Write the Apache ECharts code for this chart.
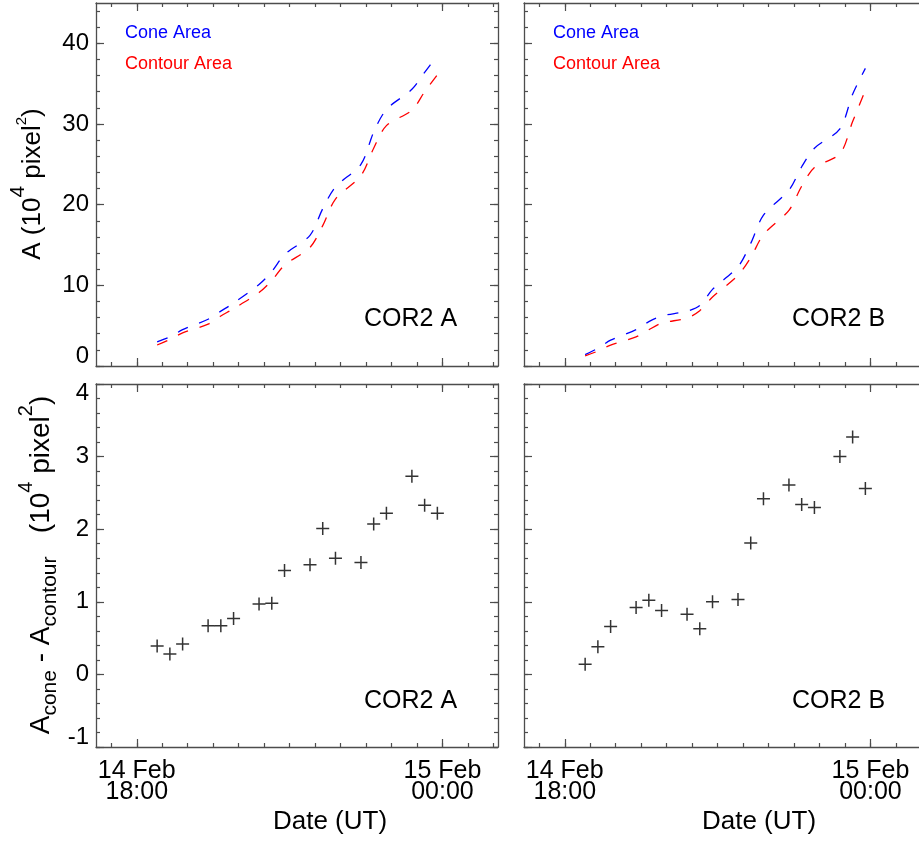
<!DOCTYPE html>
<html>
<head>
<meta charset="utf-8">
<script src="https://cdn.jsdelivr.net/npm/echarts@6/dist/echarts.min.js"></script>
<style>
  html, body { margin: 0; padding: 0; background: #fff; }
  #chart { width: 919px; height: 846px; }
</style>
</head>
<body>
<div id="chart"></div>
<script>
///////////////////////////////////////////////////
// Data
///////////////////////////////////////////////////

// COR2 image times, 14 Feb (UT)
var times = ['18:24', '18:39', '18:54', '19:24', '19:39', '19:54', '20:24', '20:39', '20:54',
             '21:24', '21:39', '21:54', '22:24', '22:39', '22:54', '23:24', '23:39', '23:54'];

// COR2 A, areas in 10^4 pixel^2
var coneAreaA    = [3.0, 3.6, 4.5, 5.8, 6.8, 7.8, 10.1, 11.7, 13.8, 16.2, 19.5, 22.2, 25.0, 29.0, 31.8, 34.3, 36.4, 38.5];
var contourAreaA = [2.6, 3.3, 4.1, 5.2, 6.2, 7.1, 9.1, 10.6, 12.5, 14.7, 17.4, 20.7, 23.6, 27.0, 29.8, 31.7, 34.0, 36.1];
var diffA        = [0.39, 0.28, 0.42, 0.67, 0.67, 0.77, 0.97, 0.98, 1.43, 1.51, 2.01, 1.60, 1.54, 2.07, 2.22, 2.73, 2.33, 2.22];

// COR2 B
var coneAreaB    = [1.4, 2.2, 3.2, 4.5, 5.5, 6.2, 6.8, 7.5, 9.5, 12.3, 15.2, 18.7, 21.8, 24.7, 27.0, 29.4, 33.7, 36.9];
var contourAreaB = [1.26, 1.85, 2.6, 3.6, 4.5, 5.3, 5.95, 6.85, 8.55, 11.25, 13.45, 16.3, 19.3, 22.3, 24.6, 26.3, 30.3, 34.2];
var diffB        = [0.14, 0.38, 0.66, 0.92, 1.02, 0.88, 0.83, 0.63, 1.00, 1.03, 1.81, 2.42, 2.61, 2.34, 2.30, 3.00, 3.27, 2.56];

// axis ticks (x in hours since 14 Feb 00:00)
var xTicks = [18, 24];
var xTickLabels = ['14 Feb\n18:00', '15 Feb\n00:00'];
var areaTicks = [0, 10, 20, 30, 40];
var diffTicks = [-1, 0, 1, 2, 3, 4];

function steps(a, b, d) {
  var out = [];
  for (var v = a; v <= b + 1e-9; v += d) out.push(Math.round(v * 1000) / 1000);
  return out;
}
var xMinorTicks = steps(17.5, 25, 0.5);
var areaMinorTicks = steps(0, 44, 2);
var diffMinorTicks = steps(-1, 4, 0.2);

var X_MIN = 17.2, X_MAX = 25.09;

function toHours(t) {
  var p = t.split(':');
  return +p[0] + p[1] / 60;
}
function pairs(vals) {
  return times.map(function (t, i) { return [toHours(t), vals[i]]; });
}

///////////////////////////////////////////////////
// Axes
///////////////////////////////////////////////////
var AXIS = '#4d4d4d';
var FONT = 'Liberation Sans, Arial, Helvetica, sans-serif';

function xAxesFor(gi, withLabels) {
  var out = [];
  ['bottom', 'top'].forEach(function (pos) {
    out.push({
      type: 'value', gridIndex: gi, position: pos, min: X_MIN, max: X_MAX,
      splitLine: { show: false },
      axisLine: { show: true, onZero: false, lineStyle: { color: AXIS, width: 1.3 } },
      axisTick: { show: true, inside: true, length: 8, customValues: xTicks, lineStyle: { color: AXIS, width: 1.2 } },
      axisLabel: (pos === 'bottom' && withLabels) ? {
        show: true, customValues: xTicks, margin: 14,
        color: '#000', fontSize: 25, lineHeight: 21, fontFamily: FONT,
        formatter: function (v) { return xTickLabels[xTicks.indexOf(v)]; }
      } : { show: false }
    });
    out.push({
      type: 'value', gridIndex: gi, position: pos, min: X_MIN, max: X_MAX,
      splitLine: { show: false },
      axisLine: { show: false, onZero: false },
      axisTick: { show: true, inside: true, length: 4, customValues: xMinorTicks, lineStyle: { color: AXIS, width: 1.2 } },
      axisLabel: { show: false }
    });
  });
  return out;
}

// the right-hand panels run past the edge of the figure, so their right frame stays hidden
function yAxesFor(gi, min, max, major, minor, withLabels, alignMax) {
  var out = [];
  ['left', 'right'].forEach(function (pos) {
    var label = { show: false };
    var visible = withLabels || pos === 'left';
    if (pos === 'left' && withLabels) {
      label = {
        show: true, customValues: major, margin: 7,
        color: '#000', fontSize: 24, lineHeight: 19, fontFamily: FONT,
        verticalAlignMinLabel: 'bottom'
      };
      if (alignMax) label.verticalAlignMaxLabel = 'top';
    }
    out.push({
      type: 'value', gridIndex: gi, position: pos, min: min, max: max,
      splitLine: { show: false },
      axisLine: { show: visible, onZero: false, lineStyle: { color: AXIS, width: 1.3 } },
      axisTick: { show: visible, inside: true, length: 8, customValues: major, lineStyle: { color: AXIS, width: 1.2 } },
      axisLabel: label
    });
    out.push({
      type: 'value', gridIndex: gi, position: pos, min: min, max: max,
      splitLine: { show: false },
      axisLine: { show: false, onZero: false },
      axisTick: { show: visible, inside: true, length: 4, customValues: minor, lineStyle: { color: AXIS, width: 1.2 } },
      axisLabel: { show: false }
    });
  });
  return out;
}

///////////////////////////////////////////////////
// Series
///////////////////////////////////////////////////
function areaLine(name, vals, gi, color) {
  return {
    name: name, type: 'line', data: pairs(vals),
    xAxisIndex: gi * 4, yAxisIndex: gi * 4,
    showSymbol: false, smooth: 0.3,
    lineStyle: { color: color, width: 1.3, type: [11, 12] }
  };
}
function crosses(vals, gi) {
  return {
    type: 'scatter', data: pairs(vals),
    xAxisIndex: gi * 4, yAxisIndex: gi * 4,
    symbol: 'path://M6,0L6,12M0,6L12,6', symbolSize: 13,
    itemStyle: { color: 'none', borderColor: '#000', borderWidth: 1.5 }
  };
}

///////////////////////////////////////////////////
// Annotations
///////////////////////////////////////////////////
function txt(x, y, text, size, color, align) {
  return {
    type: 'text', x: x, y: y,
    style: { text: text, fill: color || '#000', fontSize: size, fontFamily: FONT,
             align: align || 'left', verticalAlign: 'middle' }
  };
}

var supStyle = function (size, pad) {
  return { fontSize: size, fontFamily: FONT, fill: '#000', lineHeight: size, padding: [0, 0, pad, 0] };
};
var subStyle = function (size, pad) {
  return { fontSize: size, fontFamily: FONT, fill: '#000', lineHeight: size, padding: [pad, 0, 0, 0] };
};

var graphics = [
  txt(125, 33, 'Cone Area', 18, '#0000ff'),
  txt(125, 64, 'Contour Area', 18, '#ff0000'),
  txt(553, 33, 'Cone Area', 18, '#0000ff'),
  txt(553, 64, 'Contour Area', 18, '#ff0000'),
  txt(364, 319, 'COR2 A', 25),
  txt(792, 319, 'COR2 B', 25),
  txt(364, 701, 'COR2 A', 25),
  txt(792, 701, 'COR2 B', 25),
  txt(330, 822, 'Date (UT)', 26, '#000', 'center'),
  txt(759, 822, 'Date (UT)', 26, '#000', 'center'),
  {
    type: 'text', x: 33, y: 184, rotation: Math.PI / 2,
    style: {
      text: '{m|A (10}{s|4}{m| pixel}{t|2}{m|)}',
      align: 'center', verticalAlign: 'middle',
      rich: {
        m: { fontSize: 26, fontFamily: FONT, fill: '#000', lineHeight: 26 },
        s: supStyle(21, 30),
        t: supStyle(15, 22)
      }
    }
  },
  {
    type: 'text', x: 41, y: 565, rotation: Math.PI / 2,
    style: {
      text: '{m|A}{b|cone}{m| - A}{b|contour}{m|   (10}{s|4}{m| pixel}{s|2}{m|)}',
      align: 'center', verticalAlign: 'middle',
      rich: {
        m: { fontSize: 28, fontFamily: FONT, fill: '#000', lineHeight: 28 },
        s: supStyle(20, 30),
        b: subStyle(21, 18)
      }
    }
  }
];

///////////////////////////////////////////////////
// Chart
///////////////////////////////////////////////////
var grids = [
  { left: 96, top: 3, width: 402, height: 363 },
  { left: 524, top: 3, width: 402, height: 363 },
  { left: 96, top: 384, width: 402, height: 363 },
  { left: 524, top: 384, width: 402, height: 363 }
].map(function (g) { g.outerBoundsMode = 'none'; g.containLabel = false; return g; });

var option = {
  animation: false,
  backgroundColor: '#fff',
  grid: grids,
  xAxis: [].concat(
    xAxesFor(0, false), xAxesFor(1, false), xAxesFor(2, true), xAxesFor(3, true)
  ),
  yAxis: [].concat(
    yAxesFor(0, 0, 45, areaTicks, areaMinorTicks, true, false),
    yAxesFor(1, 0, 45, areaTicks, areaMinorTicks, false, false),
    yAxesFor(2, -1, 4, diffTicks, diffMinorTicks, true, true),
    yAxesFor(3, -1, 4, diffTicks, diffMinorTicks, false, true)
  ),
  series: [
    areaLine('Cone Area', coneAreaA, 0, '#0000ff'),
    areaLine('Contour Area', contourAreaA, 0, '#ff0000'),
    areaLine('Cone Area', coneAreaB, 1, '#0000ff'),
    areaLine('Contour Area', contourAreaB, 1, '#ff0000'),
    crosses(diffA, 2),
    crosses(diffB, 3)
  ],
  graphic: graphics
};

var myChart = echarts.init(document.getElementById('chart'), null, { renderer: 'canvas' });
myChart.setOption(option);
</script>
</body>
</html>
